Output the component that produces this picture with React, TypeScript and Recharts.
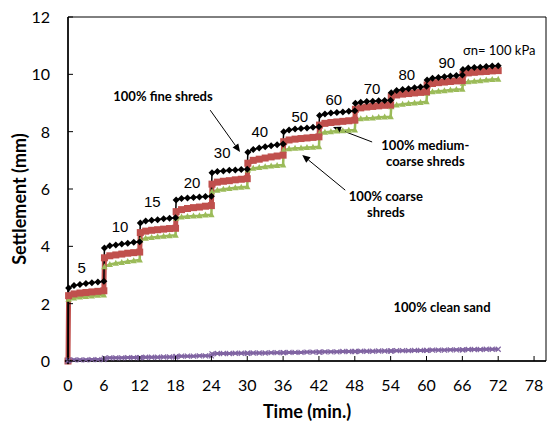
import React from 'react';
import { LineChart, Line, XAxis, YAxis, ReferenceArea, ReferenceDot, ReferenceLine } from 'recharts';

// load stages (kPa), each held for 6 min
const loadSteps = ['5', '10', '15', '20', '30', '40', '50', '60', '70', '80', '90'];
const stageStart = [0, 6, 12, 18, 24, 30, 36, 42, 48, 54, 60, 66];
const readingOffsets = [0.1, 1, 2, 3, 4, 5, 6];

// settlement (mm), one row per load stage
const fineShreds = [
  [2.55, 2.63, 2.67, 2.70, 2.73, 2.76, 2.78],
  [3.94, 4.02, 4.05, 4.08, 4.11, 4.14, 4.16],
  [4.81, 4.88, 4.91, 4.93, 4.96, 4.98, 5.00],
  [5.62, 5.67, 5.69, 5.70, 5.72, 5.74, 5.75],
  [6.57, 6.61, 6.63, 6.65, 6.66, 6.68, 6.69],
  [7.28, 7.38, 7.43, 7.47, 7.51, 7.54, 7.57],
  [8.00, 8.06, 8.09, 8.11, 8.13, 8.15, 8.17],
  [8.56, 8.62, 8.65, 8.67, 8.69, 8.71, 8.73],
  [8.99, 9.03, 9.05, 9.06, 9.08, 9.09, 9.10],
  [9.36, 9.44, 9.47, 9.50, 9.53, 9.56, 9.58],
  [9.80, 9.86, 9.89, 9.92, 9.94, 9.96, 9.98],
  [10.17, 10.22, 10.24, 10.25, 10.27, 10.29, 10.30],
];
const mediumCoarseShreds = [
  [2.28, 2.34, 2.37, 2.39, 2.41, 2.43, 2.45],
  [3.60, 3.67, 3.70, 3.73, 3.76, 3.78, 3.80],
  [4.48, 4.53, 4.56, 4.58, 4.60, 4.62, 4.63],
  [5.21, 5.28, 5.32, 5.35, 5.37, 5.40, 5.42],
  [6.17, 6.24, 6.27, 6.29, 6.32, 6.34, 6.36],
  [6.90, 7.00, 7.04, 7.08, 7.12, 7.15, 7.18],
  [7.65, 7.71, 7.74, 7.76, 7.78, 7.80, 7.82],
  [8.23, 8.29, 8.32, 8.34, 8.36, 8.38, 8.40],
  [8.78, 8.83, 8.86, 8.88, 8.90, 8.92, 8.93],
  [9.22, 9.28, 9.31, 9.33, 9.35, 9.37, 9.39],
  [9.63, 9.68, 9.71, 9.73, 9.75, 9.77, 9.78],
  [10.01, 10.05, 10.07, 10.09, 10.10, 10.12, 10.13],
];
const coarseShreds = [
  [2.15, 2.20, 2.23, 2.25, 2.27, 2.29, 2.30],
  [3.29, 3.37, 3.41, 3.44, 3.47, 3.50, 3.52],
  [4.22, 4.28, 4.31, 4.33, 4.35, 4.37, 4.39],
  [4.98, 5.02, 5.04, 5.06, 5.07, 5.09, 5.10],
  [5.90, 5.96, 5.99, 6.02, 6.04, 6.06, 6.08],
  [6.66, 6.72, 6.75, 6.78, 6.80, 6.82, 6.84],
  [7.36, 7.40, 7.42, 7.43, 7.45, 7.46, 7.47],
  [7.94, 7.98, 8.00, 8.02, 8.03, 8.05, 8.06],
  [8.41, 8.45, 8.47, 8.48, 8.50, 8.51, 8.52],
  [8.87, 8.93, 8.96, 8.98, 9.00, 9.02, 9.04],
  [9.34, 9.39, 9.41, 9.43, 9.45, 9.47, 9.48],
  [9.69, 9.74, 9.76, 9.78, 9.80, 9.82, 9.83],
];
const cleanSand = [
  [0.03, 0.04, 0.04, 0.04, 0.05, 0.05, 0.05],
  [0.10, 0.11, 0.11, 0.11, 0.12, 0.12, 0.12],
  [0.12, 0.13, 0.13, 0.13, 0.14, 0.14, 0.14],
  [0.16, 0.17, 0.17, 0.17, 0.18, 0.18, 0.18],
  [0.25, 0.26, 0.26, 0.26, 0.27, 0.27, 0.27],
  [0.27, 0.28, 0.28, 0.28, 0.29, 0.29, 0.29],
  [0.29, 0.30, 0.30, 0.30, 0.31, 0.31, 0.31],
  [0.31, 0.32, 0.32, 0.32, 0.33, 0.33, 0.33],
  [0.33, 0.34, 0.34, 0.34, 0.35, 0.35, 0.35],
  [0.35, 0.36, 0.36, 0.36, 0.37, 0.37, 0.37],
  [0.37, 0.38, 0.38, 0.38, 0.39, 0.39, 0.39],
  [0.39, 0.40, 0.40, 0.40, 0.41, 0.41, 0.41],
];

const xTicks = [0, 6, 12, 18, 24, 30, 36, 42, 48, 54, 60, 66, 72, 78];
const yTicks = [0, 2, 4, 6, 8, 10, 12];

// build the table recharts wants
const data: any[] = [{ t: 0, fine: 0, medium: 0, coarse: 0, sand: 0 }];
stageStart.forEach((s, i) => {
  readingOffsets.forEach((o, j) => {
    data.push({
      t: s + o,
      fine: fineShreds[i][j],
      medium: mediumCoarseShreds[i][j],
      coarse: coarseShreds[i][j],
      sand: cleanSand[i][j],
    });
  });
});

// where the load labels sit (min, mm)
const loadLabelPos = [
  [2.3, 3.24], [8.7, 4.67], [14.1, 5.55], [20.75, 6.21], [25.8, 7.26], [32.1, 7.99],
  [38.8, 8.51], [44.5, 9.1], [50.9, 9.49], [56.7, 9.98], [63.4, 10.39],
];

const tickFont = 'Lato, "Noto Sans", sans-serif';
const labelFont = '"Liberation Sans", Arial, sans-serif';

const XTick = (props: any) => {
  const { x, y, payload } = props;
  return (
    <g>
      <line x1={x} y1={y} x2={x} y2={y - 5} stroke="#000" />
      <text x={x} y={y + 30} textAnchor="middle" fontFamily={tickFont} fontSize={16} fill="#000">
        {payload.value}
      </text>
    </g>
  );
};

const YTick = (props: any) => {
  const { x, y, payload } = props;
  return (
    <g>
      <line x1={x} y1={y} x2={x + 5} y2={y} stroke="#000" />
      <text x={x - 18} y={y + 6} textAnchor="end" fontFamily={tickFont} fontSize={16} fill="#000">
        {payload.value}
      </text>
    </g>
  );
};

const diamond = (p: any) => {
  const { cx, cy, index } = p;
  return <polygon key={`d${index}`} points={`${cx},${cy - 3.5} ${cx + 3.5},${cy} ${cx},${cy + 3.5} ${cx - 3.5},${cy}`} fill="#000" />;
};
const square = (p: any) => {
  const { cx, cy, index } = p;
  return <rect key={`s${index}`} x={cx - 3.5} y={cy - 3.5} width={7} height={7} fill="#C0504D" />;
};
const triangle = (p: any) => {
  const { cx, cy, index } = p;
  return <polygon key={`t${index}`} points={`${cx},${cy - 3.5} ${cx + 3.2},${cy + 2.5} ${cx - 3.2},${cy + 2.5}`} fill="#9BBB59" />;
};
const cross = (p: any) => {
  const { cx, cy, index } = p;
  return (
    <g key={`c${index}`} stroke="#8064A2" strokeWidth={1.2}>
      <line x1={cx - 2.5} y1={cy - 2.5} x2={cx + 2.5} y2={cy + 2.5} />
      <line x1={cx - 2.5} y1={cy + 2.5} x2={cx + 2.5} y2={cy - 2.5} />
    </g>
  );
};

const textShape = (lines: string[], opts: any) => (p: any) => (
  <text x={p.cx} y={p.cy} textAnchor={opts.anchor || 'middle'} fontFamily={opts.font} fontSize={opts.size}
    fontWeight={opts.bold ? 'bold' : 'normal'} fill="#000">
    {lines.map((l, i) => (
      <tspan key={i} x={p.cx} dy={i === 0 ? 5 : opts.size + 3}>{l}</tspan>
    ))}
  </text>
);

const arrowShape = (p: any) => {
  const { x1, y1, x2, y2 } = p;
  const a = Math.atan2(y2 - y1, x2 - x1);
  const bx = x2 - 8 * Math.cos(a);
  const by = y2 - 8 * Math.sin(a);
  const w = 3.5;
  const pts = `${x2},${y2} ${bx + w * Math.sin(a)},${by - w * Math.cos(a)} ${bx - w * Math.sin(a)},${by + w * Math.cos(a)}`;
  return (
    <g>
      <line x1={x1} y1={y1} x2={bx} y2={by} stroke="#000" strokeWidth={1} />
      <polygon points={pts} fill="#000" />
    </g>
  );
};

const noteFont = { font: 'Lato, "Open Sans", sans-serif', size: 13, bold: true };
const titleStyle = { fontFamily: tickFont, fontWeight: 'bold', fontSize: 18, fill: '#000' };

export default function App() {
  return (
    <div style={{ position: 'absolute', left: 0, top: 0, background: '#fff' }}>
      <LineChart width={547} height={421} data={data} margin={{ top: 17, right: 1, left: 0, bottom: 0 }}>
        <XAxis
          type="number"
          dataKey="t"
          domain={[0, 80]}
          ticks={xTicks}
          interval={0}
          height={60}
          tickSize={0}
          tickMargin={0}
          tick={<XTick />}
          axisLine={{ stroke: '#000', strokeWidth: 1.5 }}
          tickLine={false}
          label={{ value: 'Time (min.)', position: 'insideBottom', offset: 3, style: titleStyle }}
        />
        <YAxis
          type="number"
          domain={[0, 12]}
          ticks={yTicks}
          interval={0}
          width={68}
          tickSize={0}
          tickMargin={0}
          tick={<YTick />}
          axisLine={{ stroke: '#000', strokeWidth: 1.5 }}
          tickLine={false}
          label={{ value: 'Settlement (mm)', angle: -90, position: 'insideLeft', offset: 20, dy: 10, style: { ...titleStyle, textAnchor: 'middle' } }}
        />
        <ReferenceArea x1={0} x2={80} y1={0} y2={12} fill="none" stroke="#000" strokeWidth={1} fillOpacity={0} />

        <Line type="linear" dataKey="coarse" stroke="#9BBB59" strokeWidth={2.5} dot={triangle} isAnimationActive={false} />
        <Line type="linear" dataKey="medium" stroke="#C0504D" strokeWidth={5} dot={square} isAnimationActive={false} />
        <Line type="linear" dataKey="fine" stroke="#000" strokeWidth={1.5} dot={diamond} isAnimationActive={false} />
        <Line type="linear" dataKey="sand" stroke="#8064A2" strokeWidth={3} dot={cross} isAnimationActive={false} />

        {loadSteps.map((s, i) => (
          <ReferenceDot key={s} x={loadLabelPos[i][0]} y={loadLabelPos[i][1]} r={0}
            shape={textShape([s], { font: labelFont, size: 15 })} />
        ))}
        <ReferenceDot x={66.1} y={10.85} r={0}
          shape={textShape(['σn= 100 kPa'], { font: 'Lato, sans-serif', size: 13, anchor: 'start' })} />

        <ReferenceDot x={15.9} y={9.24} r={0} shape={textShape(['100% fine shreds'], noteFont)} />
        <ReferenceDot x={59.8} y={7.53} r={0} shape={textShape(['100% medium-', 'coarse shreds'], noteFont)} />
        <ReferenceDot x={53.2} y={5.76} r={0} shape={textShape(['100% coarse', 'shreds'], noteFont)} />
        <ReferenceDot x={62.6} y={1.88} r={0} shape={textShape(['100% clean sand'], noteFont)} />

        <ReferenceLine segment={[{ x: 23.8, y: 8.75 }, { x: 28.8, y: 7.29 }]} shape={arrowShape} />
        <ReferenceLine segment={[{ x: 50.9, y: 7.64 }, { x: 44.35, y: 8.16 }]} shape={arrowShape} />
        <ReferenceLine segment={[{ x: 46.4, y: 5.96 }, { x: 39.2, y: 7.19 }]} shape={arrowShape} />
      </LineChart>
    </div>
  );
}
